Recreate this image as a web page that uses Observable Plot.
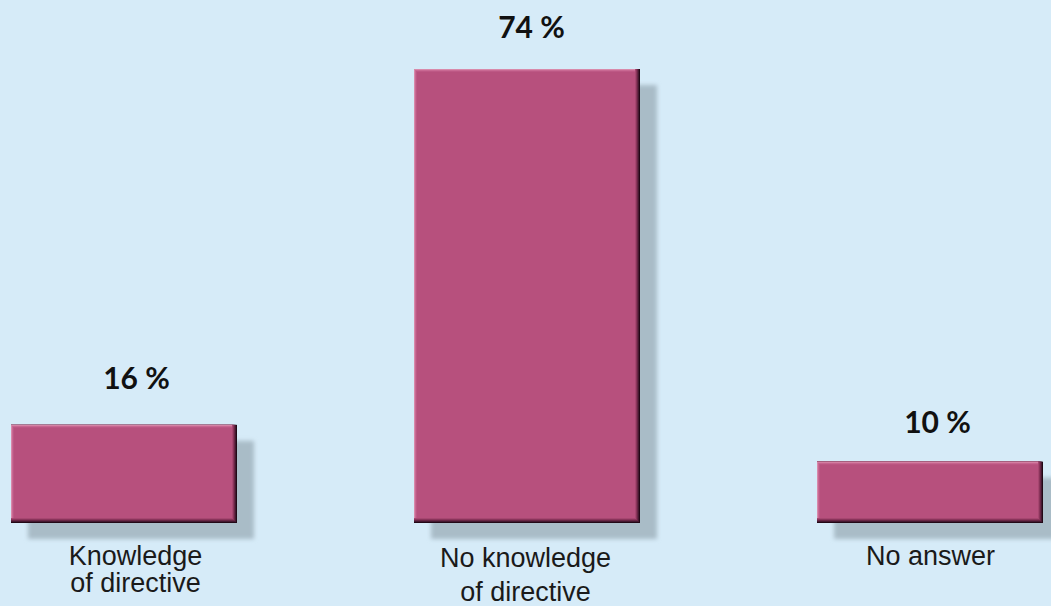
<!DOCTYPE html>
<html>
<head>
<meta charset="utf-8">
<script src="https://cdn.jsdelivr.net/npm/d3@7"></script>
<script src="https://cdn.jsdelivr.net/npm/@observablehq/plot@0.6"></script>
<style>
  html, body { margin: 0; padding: 0; background: #d6ebf8; }
  #chart svg { display: block; }
</style>
</head>
<body>
<div id="chart"></div>
<script>
// Data
const categories = ["Knowledge\nof directive", "No knowledge\nof directive", "No answer"];
const values = [16, 74, 10];
const valueLabels = ["16 %", "74 %", "10 %"];

const data = categories.map((c, i) => ({cat: c, value: values[i], label: valueLabels[i]}));

const barColor = "#b7507d";
const bar = (fill, insets = {}) => Plot.barY(data, {x: "cat", y: "value", fill, ...insets});

const inCat = (i) => (d) => d.cat === categories[i];

const chart = Plot.plot({
  width: 1051,
  height: 606,
  marginTop: 69,
  marginBottom: 83,
  marginLeft: 10,
  marginRight: 7,
  style: {background: "#d6ebf8", overflow: "visible"},
  x: {domain: categories, paddingInner: 0.44, paddingOuter: 0, axis: null},
  y: {domain: [0, 74], axis: null},
  marks: [
    // drop shadow
    Plot.barY(data, {x: "cat", y: "value", fill: "#a9bcc7", dx: 17, dy: 16, ariaDescription: "shadow"}),
    // bevel layers: dark bottom/right edge
    bar("#220816"),
    bar("#451830", {insetRight: 1, insetBottom: 1}),
    bar("#682644", {insetRight: 2, insetBottom: 2}),
    bar("#8a345b", {insetRight: 3, insetBottom: 3}),
    bar("#a64770", {insetRight: 4, insetBottom: 4}),
    // light top/left edge
    bar("#d88aab", {insetRight: 5, insetBottom: 5}),
    bar("#c96993", {insetRight: 5, insetBottom: 5, insetTop: 1, insetLeft: 1}),
    bar("#bd5885", {insetRight: 5, insetBottom: 5, insetTop: 2, insetLeft: 2}),
    bar(barColor, {insetRight: 5, insetBottom: 5, insetTop: 3, insetLeft: 3}),
    // value labels
    Plot.text(data.filter(inCat(0)), {x: "cat", y: "value", text: "label", lineAnchor: "bottom", dy: -36, dx: 12,
      fontFamily: "Lato", fontWeight: 700, fontSize: 30, fill: "#111"}),
    Plot.text(data.filter(inCat(1)), {x: "cat", y: "value", text: "label", lineAnchor: "bottom", dy: -32, dx: 4,
      fontFamily: "Lato", fontWeight: 700, fontSize: 30, fill: "#111"}),
    Plot.text(data.filter(inCat(2)), {x: "cat", y: "value", text: "label", lineAnchor: "bottom", dy: -29, dx: 7,
      fontFamily: "Lato", fontWeight: 700, fontSize: 30, fill: "#111"}),
    // category labels
    Plot.text(data.filter(inCat(0)), {x: "cat", frameAnchor: "bottom", text: "cat", lineAnchor: "top", lineHeight: 1.015, dy: 22, dx: 11,
      fontFamily: "Liberation Sans", fontSize: 27, fill: "#1a1a1a"}),
    Plot.text(data.filter(inCat(1)), {x: "cat", frameAnchor: "bottom", text: "cat", lineAnchor: "top", lineHeight: 1.285, dy: 18.5, dx: -2,
      fontFamily: "Liberation Sans", fontSize: 27, fill: "#1a1a1a"}),
    Plot.text(data.filter(inCat(2)), {x: "cat", frameAnchor: "bottom", text: "cat", lineAnchor: "top", lineHeight: 1.015, dy: 22, dx: 0,
      fontFamily: "Liberation Sans", fontSize: 27, fill: "#1a1a1a"})
  ]
});

// blur filter for the shadow
const svgNS = "http://www.w3.org/2000/svg";
const defs = document.createElementNS(svgNS, "defs");
defs.innerHTML = '<filter id="shadowBlur" x="-10%" y="-10%" width="120%" height="120%"><feGaussianBlur stdDeviation="2"/></filter>';
chart.insertBefore(defs, chart.firstChild);
const sh = chart.querySelector('g[aria-description="shadow"]');
if (sh) sh.setAttribute("filter", "url(#shadowBlur)");

document.getElementById("chart").appendChild(chart);
</script>
</body>
</html>
